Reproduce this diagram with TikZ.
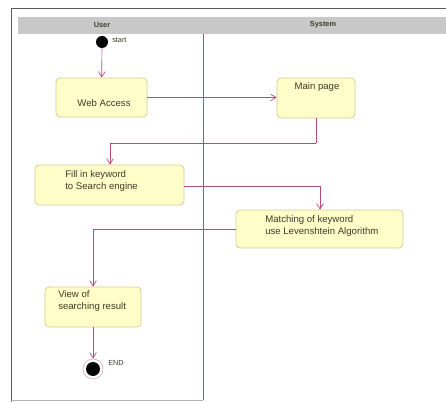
\documentclass[tikz,border=0pt]{standalone}
\usepackage{fontspec}
\setmainfont{Liberation Sans}
\usetikzlibrary{arrows.meta}

\definecolor{flowc}{RGB}{184,72,128}
\definecolor{boxfill}{RGB}{255,253,200}
\definecolor{boxedge}{RGB}{214,204,150}
\definecolor{headgray}{RGB}{200,200,200}
\definecolor{textc}{RGB}{60,60,40}

\tikzset{
	actbox/.style={draw=boxedge, fill=boxfill, rounded corners=3pt, line width=0.6pt},
	acttext/.style={font=\fontsize{7.2}{8.6}\selectfont, text=textc, align=left, inner sep=0pt},
	flow/.style={draw=flowc, line width=0.5pt, -{Straight Barb[length=4pt,width=5pt]}},
	flowline/.style={draw=flowc, line width=0.5pt},
	small/.style={font=\fontsize{5.5}{6}\selectfont, text=textc, inner sep=0pt}
}

\begin{document}
\begin{tikzpicture}[x=0.75pt, y=-0.75pt]
		\useasboundingbox (0,0) rectangle (446,402);
		\fill[white] (0,0) rectangle (446,402);
		% Cornice e intestazione
		\draw[gray!70!black, line width=0.6pt] (11,402) -- (11,8) -- (446,8);
		\fill[headgray] (18,17) rectangle (446,34);
		\node[small, font=\fontsize{5.5}{6}\selectfont\bfseries] (user) at (102,25) {User};
		\node[small, font=\fontsize{5.5}{6}\selectfont\bfseries] (system) at (323,25) {System};
		% Corsie
		\draw[flowc, line width=0.6pt] (203,34) -- (203,400);
		\draw[gray!60, line width=0.5pt] (11,400) -- (203,400);
		
		% Inizio
		\node[circle, fill=black, minimum size=9pt, inner sep=0pt] (start) at (102,42) {};
		\node[small, anchor=west] (startlbl) at (112,40) {start};
		
		% Attivita
		\node[actbox, minimum width=68.25pt, minimum height=29.25pt] (web) at (101.5,97.5) {};
		\node[acttext] (webtxt) at (104,103) {Web Access};
		\node[actbox, minimum width=58.5pt, minimum height=30pt] (main) at (316,98) {};
		\node[acttext] (maintxt) at (317,87) {Main page};
		\node[actbox, minimum width=149*0.75pt, minimum height=30pt] (fill) at (109.5,185) {};
		\node[acttext, anchor=west] (filltxt) at (65,181) {Fill in keyword\\to Search engine};
		\node[actbox, minimum width=125.25pt, minimum height=28.5pt] (match) at (319.5,229) {};
		\node[acttext, anchor=west] (matchtxt) at (265,226) {Matching of keyword\\use Levenshtein Algorithm};
		\node[actbox, minimum width=72pt, minimum height=30pt] (view) at (93,307) {};
		\node[acttext, anchor=west] (viewtxt) at (58,301) {View of\\searching result};
		
		% Fine
		\node[circle, draw=flowc!40, line width=0.6pt, minimum size=15pt, inner sep=0pt] (end) at (93,369) {};
		\node[circle, fill=black, minimum size=10.5pt, inner sep=0pt] (endin) at (end) {};
		\node[small, anchor=west] (endlbl) at (108,363) {END};
		
		% Flussi
		\draw[flow] (start) -- (web);
		\draw[flow] (web.east) -- (main.west |- web.east);
		\coordinate (c1) at (main.south |- 0,143);
		\draw[flowline] (main.south) -- (c1);
		\draw[flow] (c1) -| (fill.north -| 110,0);
		\coordinate (c2) at (320,186);
		\draw[flowline] (fill.east |- c2) -- (c2);
		\draw[flow] (c2) -- (match.north -| c2);
		\coordinate (c3) at (93,229);
		\draw[flowline] (match.west) -- (c3);
		\draw[flow] (c3) -- (view.north);
		\draw[flow] (view.south) -- (end.north);
\end{tikzpicture}
\end{document}
